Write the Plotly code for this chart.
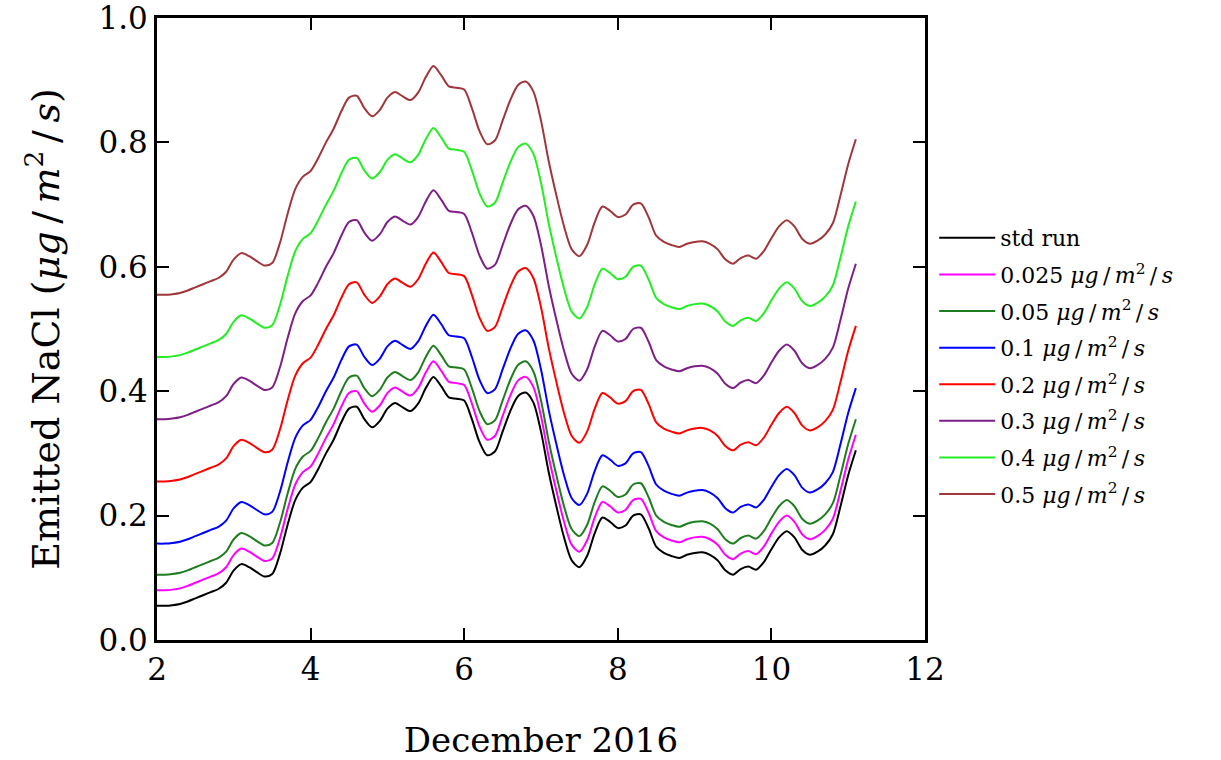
import plotly.graph_objects as go

# Day of December 2016 (sampled every 0.1 day)
days = [2.0, 2.1, 2.2, 2.3, 2.4, 2.5, 2.6, 2.7, 2.8, 2.9,
        3.0, 3.1, 3.2, 3.3, 3.4, 3.5, 3.6, 3.7, 3.8, 3.9,
        4.0, 4.1, 4.2, 4.3, 4.4, 4.5, 4.6, 4.7, 4.8, 4.9,
        5.0, 5.1, 5.2, 5.3, 5.4, 5.5, 5.6, 5.7, 5.8, 5.9,
        6.0, 6.1, 6.2, 6.3, 6.4, 6.5, 6.6, 6.7, 6.8, 6.9,
        7.0, 7.1, 7.2, 7.3, 7.4, 7.5, 7.6, 7.7, 7.8, 7.9,
        8.0, 8.1, 8.2, 8.3, 8.4, 8.5, 8.6, 8.7, 8.8, 8.9,
        9.0, 9.1, 9.2, 9.3, 9.4, 9.5, 9.6, 9.7, 9.8, 9.9,
        10.0, 10.1, 10.2, 10.3, 10.4, 10.5, 10.6, 10.7, 10.8, 10.9,
        11.0, 11.1]

std_run = [0.055, 0.055, 0.056, 0.058, 0.062, 0.067, 0.072, 0.077, 0.082, 0.092,
           0.112, 0.122, 0.117, 0.109, 0.102, 0.106, 0.138, 0.185, 0.225, 0.245,
           0.254, 0.275, 0.300, 0.322, 0.350, 0.372, 0.375, 0.355, 0.342, 0.352,
           0.372, 0.381, 0.374, 0.368, 0.380, 0.405, 0.423, 0.408, 0.390, 0.388,
           0.385, 0.355, 0.318, 0.297, 0.303, 0.335, 0.368, 0.392, 0.398, 0.382,
           0.335, 0.270, 0.215, 0.165, 0.128, 0.117, 0.135, 0.172, 0.197, 0.190,
           0.180, 0.184, 0.200, 0.202, 0.180, 0.150, 0.140, 0.135, 0.132, 0.137,
           0.140, 0.141, 0.137, 0.128, 0.112, 0.105, 0.114, 0.118, 0.113, 0.125,
           0.146, 0.165, 0.175, 0.165, 0.145, 0.137, 0.142, 0.152, 0.170, 0.215,
           0.265, 0.305]

emis_0025 = [0.080, 0.080, 0.081, 0.083, 0.087, 0.092, 0.097, 0.102, 0.107, 0.117,
             0.137, 0.147, 0.142, 0.134, 0.127, 0.131, 0.163, 0.210, 0.250, 0.270,
             0.279, 0.300, 0.325, 0.347, 0.375, 0.397, 0.400, 0.380, 0.367, 0.377,
             0.397, 0.406, 0.399, 0.393, 0.405, 0.430, 0.448, 0.433, 0.415, 0.413,
             0.410, 0.380, 0.343, 0.322, 0.328, 0.360, 0.393, 0.417, 0.423, 0.407,
             0.360, 0.295, 0.240, 0.190, 0.153, 0.142, 0.160, 0.197, 0.222, 0.215,
             0.205, 0.209, 0.225, 0.227, 0.205, 0.175, 0.165, 0.160, 0.157, 0.162,
             0.165, 0.166, 0.162, 0.153, 0.137, 0.130, 0.139, 0.143, 0.138, 0.150,
             0.171, 0.190, 0.200, 0.190, 0.170, 0.162, 0.167, 0.177, 0.195, 0.240,
             0.290, 0.330]

emis_005 = [0.105, 0.105, 0.106, 0.108, 0.112, 0.117, 0.122, 0.127, 0.132, 0.142,
            0.162, 0.172, 0.167, 0.159, 0.152, 0.156, 0.188, 0.235, 0.275, 0.295,
            0.304, 0.325, 0.350, 0.372, 0.400, 0.422, 0.425, 0.405, 0.392, 0.402,
            0.422, 0.431, 0.424, 0.418, 0.430, 0.455, 0.473, 0.458, 0.440, 0.438,
            0.435, 0.405, 0.368, 0.347, 0.353, 0.385, 0.418, 0.442, 0.448, 0.432,
            0.385, 0.320, 0.265, 0.215, 0.178, 0.167, 0.185, 0.222, 0.247, 0.240,
            0.230, 0.234, 0.250, 0.252, 0.230, 0.200, 0.190, 0.185, 0.182, 0.187,
            0.190, 0.191, 0.187, 0.178, 0.162, 0.155, 0.164, 0.168, 0.163, 0.175,
            0.196, 0.215, 0.225, 0.215, 0.195, 0.187, 0.192, 0.202, 0.220, 0.265,
            0.315, 0.355]

emis_01 = [0.155, 0.155, 0.156, 0.158, 0.162, 0.167, 0.172, 0.177, 0.182, 0.192,
           0.212, 0.222, 0.217, 0.209, 0.202, 0.206, 0.238, 0.285, 0.325, 0.345,
           0.354, 0.375, 0.400, 0.422, 0.450, 0.472, 0.475, 0.455, 0.442, 0.452,
           0.472, 0.481, 0.474, 0.468, 0.480, 0.505, 0.523, 0.508, 0.490, 0.488,
           0.485, 0.455, 0.418, 0.397, 0.403, 0.435, 0.468, 0.492, 0.498, 0.482,
           0.435, 0.370, 0.315, 0.265, 0.228, 0.217, 0.235, 0.272, 0.297, 0.290,
           0.280, 0.284, 0.300, 0.302, 0.280, 0.250, 0.240, 0.235, 0.232, 0.237,
           0.240, 0.241, 0.237, 0.228, 0.212, 0.205, 0.214, 0.218, 0.213, 0.225,
           0.246, 0.265, 0.275, 0.265, 0.245, 0.237, 0.242, 0.252, 0.270, 0.315,
           0.365, 0.405]

emis_02 = [0.255, 0.255, 0.256, 0.258, 0.262, 0.267, 0.272, 0.277, 0.282, 0.292,
           0.312, 0.322, 0.317, 0.309, 0.302, 0.306, 0.338, 0.385, 0.425, 0.445,
           0.454, 0.475, 0.500, 0.522, 0.550, 0.572, 0.575, 0.555, 0.542, 0.552,
           0.572, 0.581, 0.574, 0.568, 0.580, 0.605, 0.623, 0.608, 0.590, 0.588,
           0.585, 0.555, 0.518, 0.497, 0.503, 0.535, 0.568, 0.592, 0.598, 0.582,
           0.535, 0.470, 0.415, 0.365, 0.328, 0.317, 0.335, 0.372, 0.397, 0.390,
           0.380, 0.384, 0.400, 0.402, 0.380, 0.350, 0.340, 0.335, 0.332, 0.337,
           0.340, 0.341, 0.337, 0.328, 0.312, 0.305, 0.314, 0.318, 0.313, 0.325,
           0.346, 0.365, 0.375, 0.365, 0.345, 0.337, 0.342, 0.352, 0.370, 0.415,
           0.465, 0.505]

emis_03 = [0.355, 0.355, 0.356, 0.358, 0.362, 0.367, 0.372, 0.377, 0.382, 0.392,
           0.412, 0.422, 0.417, 0.409, 0.402, 0.406, 0.438, 0.485, 0.525, 0.545,
           0.554, 0.575, 0.600, 0.622, 0.650, 0.672, 0.675, 0.655, 0.642, 0.652,
           0.672, 0.681, 0.674, 0.668, 0.680, 0.705, 0.723, 0.708, 0.690, 0.688,
           0.685, 0.655, 0.618, 0.597, 0.603, 0.635, 0.668, 0.692, 0.698, 0.682,
           0.635, 0.570, 0.515, 0.465, 0.428, 0.417, 0.435, 0.472, 0.497, 0.490,
           0.480, 0.484, 0.500, 0.502, 0.480, 0.450, 0.440, 0.435, 0.432, 0.437,
           0.440, 0.441, 0.437, 0.428, 0.412, 0.405, 0.414, 0.418, 0.413, 0.425,
           0.446, 0.465, 0.475, 0.465, 0.445, 0.437, 0.442, 0.452, 0.470, 0.515,
           0.565, 0.605]

emis_04 = [0.455, 0.455, 0.456, 0.458, 0.462, 0.467, 0.472, 0.477, 0.482, 0.492,
           0.512, 0.522, 0.517, 0.509, 0.502, 0.506, 0.538, 0.585, 0.625, 0.645,
           0.654, 0.675, 0.700, 0.722, 0.750, 0.772, 0.775, 0.755, 0.742, 0.752,
           0.772, 0.781, 0.774, 0.768, 0.780, 0.805, 0.823, 0.808, 0.790, 0.788,
           0.785, 0.755, 0.718, 0.697, 0.703, 0.735, 0.768, 0.792, 0.798, 0.782,
           0.735, 0.670, 0.615, 0.565, 0.528, 0.517, 0.535, 0.572, 0.597, 0.590,
           0.580, 0.584, 0.600, 0.602, 0.580, 0.550, 0.540, 0.535, 0.532, 0.537,
           0.540, 0.541, 0.537, 0.528, 0.512, 0.505, 0.514, 0.518, 0.513, 0.525,
           0.546, 0.565, 0.575, 0.565, 0.545, 0.537, 0.542, 0.552, 0.570, 0.615,
           0.665, 0.705]

emis_05 = [0.555, 0.555, 0.556, 0.558, 0.562, 0.567, 0.572, 0.577, 0.582, 0.592,
           0.612, 0.622, 0.617, 0.609, 0.602, 0.606, 0.638, 0.685, 0.725, 0.745,
           0.754, 0.775, 0.800, 0.822, 0.850, 0.872, 0.875, 0.855, 0.842, 0.852,
           0.872, 0.881, 0.874, 0.868, 0.880, 0.905, 0.923, 0.908, 0.890, 0.888,
           0.885, 0.855, 0.818, 0.797, 0.803, 0.835, 0.868, 0.892, 0.898, 0.882,
           0.835, 0.770, 0.715, 0.665, 0.628, 0.617, 0.635, 0.672, 0.697, 0.690,
           0.680, 0.684, 0.700, 0.702, 0.680, 0.650, 0.640, 0.635, 0.632, 0.637,
           0.640, 0.641, 0.637, 0.628, 0.612, 0.605, 0.614, 0.618, 0.613, 0.625,
           0.646, 0.665, 0.675, 0.665, 0.645, 0.637, 0.642, 0.652, 0.670, 0.715,
           0.765, 0.805]

# unit string with thin spaces around the slashes, as typeset in math mode
unit = "<i>μg</i>\u2009/\u2009<i>m</i><sup>2</sup>\u2009/\u2009<i>s</i>"
series_names = ["std run", "0.025 " + unit, "0.05 " + unit, "0.1 " + unit,
                "0.2 " + unit, "0.3 " + unit, "0.4 " + unit, "0.5 " + unit]
series_values = [std_run, emis_0025, emis_005, emis_01,
                 emis_02, emis_03, emis_04, emis_05]
series_colors = ["#000000", "#ff00ff", "#1e7d1e", "#0000ff",
                 "#ff0000", "#7d1f86", "#22ee22", "#a0363a"]

x_ticks = [2, 4, 6, 8, 10, 12]
y_ticks = [0.0, 0.2, 0.4, 0.6, 0.8, 1.0]

serif = "DejaVu Serif"

fig = go.Figure()
for i, (name, vals, col) in enumerate(zip(series_names, series_values, series_colors)):
    fig.add_trace(go.Scatter(
        x=days, y=vals, mode="lines", name=name, legendgroup=f"g{i}",
        line=dict(color=col, width=2, shape="spline", smoothing=0.8),
    ))

axis_common = dict(
    showline=True, linecolor="black", linewidth=3, mirror="ticks",
    ticks="inside", ticklen=12, tickwidth=2, tickcolor="black",
    showgrid=False, zeroline=False, automargin=False,
    ticklabeloverflow="allow",
    tickfont=dict(family=serif, size=31, color="black"),
)

fig.update_layout(
    width=1221, height=760,
    margin=dict(l=157, r=296, t=18, b=120),
    paper_bgcolor="white", plot_bgcolor="white",
    font=dict(family=serif, color="black"),
    xaxis=dict(range=[2, 12], tickvals=x_ticks, ticktext=[str(t) for t in x_ticks],
               title=dict(text="December 2016", font=dict(family=serif, size=34),
                          standoff=42),
               **axis_common),
    yaxis=dict(range=[0, 1.0], tickvals=y_ticks,
               ticktext=[f"{t:.1f}" for t in y_ticks],
               title=dict(text="Emitted NaCl (" + unit + ")",
                          font=dict(family=serif, size=38), standoff=28),
               **axis_common),
    legend=dict(x=1.012, y=0.68, xanchor="left", yanchor="top",
                font=dict(family=serif, size=22, color="black"),
                bgcolor="rgba(0,0,0,0)", borderwidth=0,
                itemwidth=56, tracegroupgap=5),
)

fig.write_html("out.html")
